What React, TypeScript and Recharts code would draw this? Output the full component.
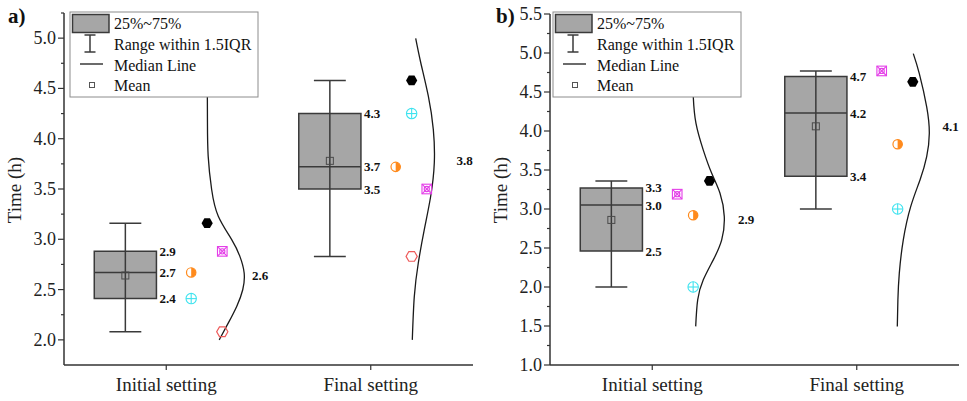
import React from "react";
import {
  ComposedChart,
  XAxis,
  YAxis,
  Scatter,
  ReferenceArea,
  ReferenceLine,
} from "recharts";

const FONT = "'Liberation Serif', 'Times New Roman', serif";

const categories = ["Initial setting", "Final setting"];
const categoryX = [1, 2];

// ---- panel a ----
const aLow = [2.08, 2.83];
const aQ1 = [2.41, 3.5];
const aMedian = [2.67, 3.72];
const aQ3 = [2.88, 4.25];
const aHigh = [3.16, 4.58];
const aMean = [2.64, 3.78];
const aQ1Label = ["2.4", "3.5"];
const aMedianLabel = ["2.7", "3.7"];
const aQ3Label = ["2.9", "4.3"];
const aFitLabel = ["2.6", "3.8"];
const aBlack = [3.16, 4.58];
const aOrange = [2.67, 3.72];
const aCyan = [2.41, 4.25];
const aMagenta = [2.88, 3.5];
const aRed = [2.08, 2.83];
const aYTicks = [2.0, 2.25, 2.5, 2.75, 3.0, 3.25, 3.5, 3.75, 4.0, 4.25, 4.5, 4.75, 5.0, 5.25];
// fitted curves: time value and position on the category axis
const aCurve1Time = [5.0, 4.6, 4.425, 4.163, 3.827, 3.495, 3.229, 2.997, 2.83, 2.665, 2.498, 2.332, 2.166, 2.0];
const aCurve1X = [1.2, 1.2005, 1.201, 1.2015, 1.205, 1.222, 1.2545, 1.32, 1.36, 1.381, 1.374, 1.3445, 1.303, 1.259];
const aCurve2Time = [4.997, 4.758, 4.425, 4.093, 3.761, 3.428, 3.096, 2.764, 2.432, 2.0];
const aCurve2X = [2.2198, 2.2443, 2.2814, 2.3059, 2.3108, 2.2931, 2.2618, 2.2325, 2.213, 2.2032];

// ---- panel b ----
const bLow = [2.0, 3.0];
const bQ1 = [2.46, 3.42];
const bMedian = [3.05, 4.23];
const bQ3 = [3.27, 4.7];
const bHigh = [3.36, 4.77];
const bMean = [2.86, 4.06];
const bQ1Label = ["2.5", "3.4"];
const bMedianLabel = ["3.0", "4.2"];
const bQ3Label = ["3.3", "4.7"];
const bFitLabel = ["2.9", "4.1"];
const bBlack = [3.36, 4.63];
const bOrange = [2.92, 3.83];
const bCyan = [2.0, 3.0];
const bMagenta = [3.19, 4.77];
const bYTicks = [1.0, 1.25, 1.5, 1.75, 2.0, 2.25, 2.5, 2.75, 3.0, 3.25, 3.5, 3.75, 4.0, 4.25, 4.5, 4.75, 5.0, 5.25, 5.5];
const bCurve1Time = [5.0, 4.75, 4.437, 4.097, 3.755, 3.457, 3.201, 2.902, 2.604, 2.348, 2.092, 1.836, 1.495];
const bCurve1X = [1.195, 1.197, 1.2007, 1.2139, 1.2496, 1.2907, 1.3313, 1.3523, 1.3396, 1.2985, 1.2496, 1.2222, 1.2125];
const bCurve2Time = [4.992, 4.736, 4.309, 3.969, 3.67, 3.372, 3.03, 2.604, 2.178, 1.836, 1.495];
const bCurve2X = [2.2765, 2.3059, 2.342, 2.3548, 2.342, 2.3093, 2.2638, 2.2276, 2.2081, 2.2012, 2.1983];

// layout constants (category axis units)
const BOX_SHIFT = -0.2;
const BOX_HALF = 0.152;
const CAP_HALF = 0.078;
const FIT_LABEL_SHIFT = 0.405;
const A_OFF = { black: [0.2, 0.2], orange: [0.122, 0.122], cyan: [0.122, 0.2], magenta: [0.274, 0.274], red: [0.274, 0.2] };
const B_OFF = { black: [0.28, 0.274], orange: [0.2, 0.2], cyan: [0.2, 0.2], magenta: [0.122, 0.122] };

const BOX_FILL = "#a6a6a6";
const BOX_STROKE = "#3a3a3a";

const hexPoints = (cx: number, cy: number, r: number) =>
  [0, 60, 120, 180, 240, 300]
    .map((a) => {
      const t = (a * Math.PI) / 180;
      return `${cx + r * Math.cos(t)},${cy + r * Math.sin(t)}`;
    })
    .join(" ");

const BlackHex = ({ cx, cy }: any) => <polygon points={hexPoints(cx, cy, 5.6)} fill="#000" />;
const RedHex = ({ cx, cy }: any) => (
  <polygon points={hexPoints(cx, cy, 5.6)} fill="none" stroke="#ee5a5a" strokeWidth={1.2} />
);
const HalfCircle = ({ cx, cy }: any) => (
  <g>
    <circle cx={cx} cy={cy} r={4.7} fill="#fff" stroke="#ff8a1c" strokeWidth={1.2} />
    <path d={`M${cx},${cy - 4.7} A4.7,4.7 0 0 1 ${cx},${cy + 4.7} Z`} fill="#ff8a1c" />
  </g>
);
const CirclePlus = ({ cx, cy }: any) => (
  <g stroke="#3fe3ef" strokeWidth={1.1} fill="none">
    <circle cx={cx} cy={cy} r={5.2} />
    <line x1={cx - 5.2} x2={cx + 5.2} y1={cy} y2={cy} />
    <line x1={cx} x2={cx} y1={cy - 5.2} y2={cy + 5.2} />
  </g>
);
const SquareX = ({ cx, cy }: any) => (
  <g stroke="#e43fe8" strokeWidth={1.1} fill="none">
    <rect x={cx - 4.8} y={cy - 4.8} width={9.6} height={9.6} />
    <line x1={cx - 4.8} y1={cy - 4.8} x2={cx + 4.8} y2={cy + 4.8} />
    <line x1={cx - 4.8} y1={cy + 4.8} x2={cx + 4.8} y2={cy - 4.8} />
    <circle cx={cx} cy={cy} r={2.6} />
  </g>
);
const MeanSquare = ({ cx, cy }: any) => (
  <rect x={cx - 3.5} y={cy - 3.5} width={7} height={7} fill="none" stroke="#4a4a4a" strokeWidth={1} />
);
const NoDot = () => <g />;
const ValueText = ({ cx, cy, payload }: any) => (
  <text x={cx + 3} y={cy} dy={4.5} fontSize={13} fontWeight="bold" fontFamily={FONT} fill="#111">
    {payload.label}
  </text>
);

const YTick = ({ x, y, payload }: any) => {
  const v = payload.value;
  const major = Math.abs(v * 2 - Math.round(v * 2)) < 1e-6;
  return (
    <g>
      <line x1={x} x2={x - (major ? 6 : 3)} y1={y} y2={y} stroke="#333" strokeWidth={1.2} />
      {major && (
        <text x={x - 8} y={y} dy={6} textAnchor="end" fontSize={18} fontFamily={FONT} fill="#222">
          {v.toFixed(1)}
        </text>
      )}
    </g>
  );
};

const XTick = ({ x, y, payload }: any) => (
  <g>
    <line x1={x} x2={x} y1={y} y2={y + 5} stroke="#333" strokeWidth={1.2} />
    <text x={x} y={y + 26} textAnchor="middle" fontSize={19} fontFamily={FONT} fill="#222">
      {categories[categoryX.indexOf(payload.value)]}
    </text>
  </g>
);

const Panel = (p: any) => {
  const centers = categoryX.map((c) => c + BOX_SHIFT);
  const labelData = [
    ...centers.map((c, i) => ({ x: c + BOX_HALF, y: p.q3[i], label: p.q3Label[i] })),
    ...centers.map((c, i) => ({ x: c + BOX_HALF, y: p.median[i], label: p.medianLabel[i] })),
    ...centers.map((c, i) => ({ x: c + BOX_HALF, y: p.q1[i], label: p.q1Label[i] })),
    ...categoryX.map((c, i) => ({ x: c + FIT_LABEL_SHIFT, y: p.mean[i], label: p.fitLabel[i] })),
  ];
  return (
    <div style={{ position: "absolute", left: p.left, top: 0 }}>
      <ComposedChart width={p.width} height={401} margin={p.margin}>
        <XAxis
          dataKey="x"
          type="number"
          height={1}
          domain={[0.5, 2.5]}
          allowDataOverflow
          ticks={categoryX}
          interval={0}
          tickSize={0}
          tickMargin={0}
          tick={<XTick />}
          axisLine={{ stroke: "#333", strokeWidth: 1.5 }}
          tickLine={false}
        />
        <YAxis
          dataKey="y"
          type="number"
          width={50}
          domain={p.domain}
          allowDataOverflow
          ticks={p.ticks}
          interval={0}
          tickSize={0}
          tickMargin={0}
          tick={<YTick />}
          axisLine={{ stroke: "#333", strokeWidth: 1.5 }}
          tickLine={false}
        />
        {centers.map((c, i) => (
          <ReferenceLine
            key={`wl${i}`}
            segment={[{ x: c, y: p.low[i] }, { x: c, y: p.high[i] }]}
            stroke={BOX_STROKE}
            strokeWidth={1.5}
          />
        ))}
        {centers.map((c, i) => (
          <ReferenceLine
            key={`cl${i}`}
            segment={[{ x: c - CAP_HALF, y: p.low[i] }, { x: c + CAP_HALF, y: p.low[i] }]}
            stroke={BOX_STROKE}
            strokeWidth={1.5}
          />
        ))}
        {centers.map((c, i) => (
          <ReferenceLine
            key={`ch${i}`}
            segment={[{ x: c - CAP_HALF, y: p.high[i] }, { x: c + CAP_HALF, y: p.high[i] }]}
            stroke={BOX_STROKE}
            strokeWidth={1.5}
          />
        ))}
        {centers.map((c, i) => (
          <ReferenceArea
            key={`box${i}`}
            x1={c - BOX_HALF}
            x2={c + BOX_HALF}
            y1={p.q1[i]}
            y2={p.q3[i]}
            fill={BOX_FILL}
            fillOpacity={1}
            stroke={BOX_STROKE}
            strokeWidth={1.5}
          />
        ))}
        {centers.map((c, i) => (
          <ReferenceLine
            key={`md${i}`}
            segment={[{ x: c - BOX_HALF, y: p.median[i] }, { x: c + BOX_HALF, y: p.median[i] }]}
            stroke={BOX_STROKE}
            strokeWidth={1.5}
          />
        ))}
        <Scatter
          data={centers.map((c, i) => ({ x: c, y: p.mean[i] }))}
          shape={MeanSquare}
          isAnimationActive={false}
        />
        {p.curves.map((cv: any, k: number) => (
          <Scatter
            key={`curve${k}`}
            data={cv.time.map((t: number, j: number) => ({ x: cv.x[j], y: t }))}
            line={{ stroke: "#1a1a1a", strokeWidth: 1.3 }}
            lineJointType="natural"
            fill="none"
            shape={NoDot}
            isAnimationActive={false}
          />
        ))}
        {p.points.map((s: any, k: number) => (
          <Scatter
            key={`pts${k}`}
            data={s.values.map((v: number, i: number) => ({ x: categoryX[i] + s.offsets[i], y: v }))}
            shape={s.shape}
            isAnimationActive={false}
          />
        ))}
        <Scatter data={labelData} shape={ValueText} isAnimationActive={false} />
      </ComposedChart>
    </div>
  );
};

const LegendBox = ({ x, y }: { x: number; y: number }) => (
  <g transform={`translate(${x},${y})`} fontFamily={FONT} fontSize={16} fill="#111">
    <rect x={0} y={0} width={188} height={85} fill="#fff" stroke="#8c8c8c" strokeWidth={1} />
    <rect x={2.5} y={2.5} width={36.5} height={18} fill={BOX_FILL} stroke={BOX_STROKE} strokeWidth={1.5} />
    <text x={44} y={17}>25%~75%</text>
    <g stroke={BOX_STROKE} strokeWidth={1.5}>
      <line x1={20} x2={20} y1={23} y2={40} />
      <line x1={14.5} x2={25.5} y1={23} y2={23} />
      <line x1={14.5} x2={25.5} y1={40} y2={40} />
      <line x1={10} x2={33} y1={52} y2={52} />
    </g>
    <text x={44} y={38}>Range within 1.5IQR</text>
    <text x={44} y={58.5}>Median Line</text>
    <rect x={19.5} y={70.5} width={5} height={5} fill="none" stroke="#555" strokeWidth={1} />
    <text x={44} y={79}>Mean</text>
  </g>
);

const App = () => {
  return (
    <div style={{ position: "absolute", left: 0, top: 0, width: 967, height: 401, background: "#fff" }}>
      <Panel
        left={0}
        width={483}
        margin={{ top: 13, right: 10, bottom: 35, left: 14 }}
        domain={[1.75, 5.25]}
        ticks={aYTicks}
        low={aLow}
        q1={aQ1}
        median={aMedian}
        q3={aQ3}
        high={aHigh}
        mean={aMean}
        q1Label={aQ1Label}
        medianLabel={aMedianLabel}
        q3Label={aQ3Label}
        fitLabel={aFitLabel}
        curves={[
          { time: aCurve1Time, x: aCurve1X },
          { time: aCurve2Time, x: aCurve2X },
        ]}
        points={[
          { values: aBlack, offsets: A_OFF.black, shape: BlackHex },
          { values: aOrange, offsets: A_OFF.orange, shape: HalfCircle },
          { values: aCyan, offsets: A_OFF.cyan, shape: CirclePlus },
          { values: aMagenta, offsets: A_OFF.magenta, shape: SquareX },
          { values: aRed, offsets: A_OFF.red, shape: RedHex },
        ]}
      />
      <Panel
        left={483}
        width={484}
        margin={{ top: 14, right: 8, bottom: 35, left: 17 }}
        domain={[1.0, 5.5]}
        ticks={bYTicks}
        low={bLow}
        q1={bQ1}
        median={bMedian}
        q3={bQ3}
        high={bHigh}
        mean={bMean}
        q1Label={bQ1Label}
        medianLabel={bMedianLabel}
        q3Label={bQ3Label}
        fitLabel={bFitLabel}
        curves={[
          { time: bCurve1Time, x: bCurve1X },
          { time: bCurve2Time, x: bCurve2X },
        ]}
        points={[
          { values: bBlack, offsets: B_OFF.black, shape: BlackHex },
          { values: bOrange, offsets: B_OFF.orange, shape: HalfCircle },
          { values: bCyan, offsets: B_OFF.cyan, shape: CirclePlus },
          { values: bMagenta, offsets: B_OFF.magenta, shape: SquareX },
        ]}
      />
      <svg
        width={967}
        height={401}
        style={{ position: "absolute", left: 0, top: 0, pointerEvents: "none" }}
      >
        <text x={8} y={23} fontFamily={FONT} fontSize={21} fontWeight="bold" fill="#111">
          a)
        </text>
        <text x={496} y={23} fontFamily={FONT} fontSize={21} fontWeight="bold" fill="#111">
          b)
        </text>
        <text
          transform="translate(21,190) rotate(-90)"
          textAnchor="middle"
          fontFamily={FONT}
          fontSize={19}
          fill="#222"
        >
          Time (h)
        </text>
        <text
          transform="translate(507,190) rotate(-90)"
          textAnchor="middle"
          fontFamily={FONT}
          fontSize={19}
          fill="#222"
        >
          Time (h)
        </text>
        <LegendBox x={70} y={12} />
        <LegendBox x={553} y={12} />
      </svg>
    </div>
  );
};

export default App;
